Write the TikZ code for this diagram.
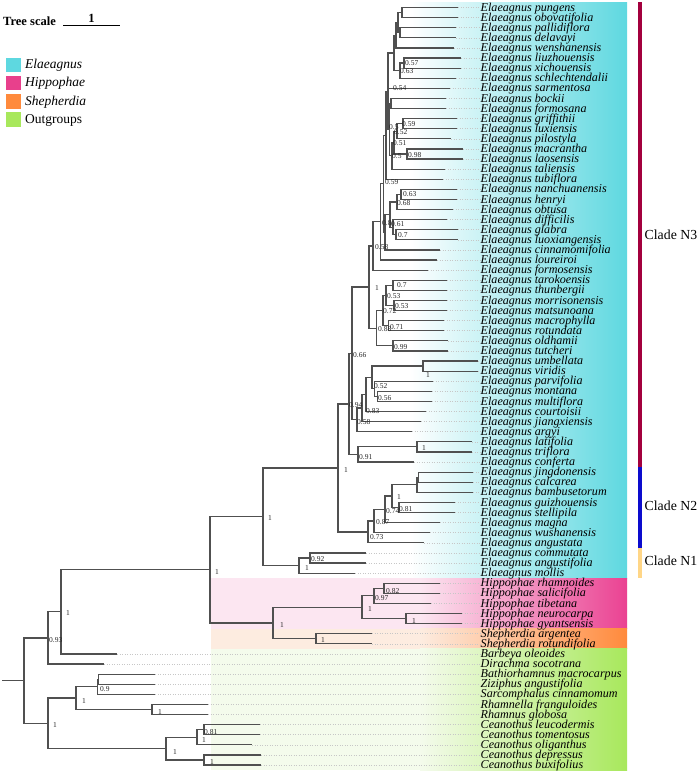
\documentclass[tikz,border=0pt]{standalone}
\usepackage{fontspec}
\setmainfont{Liberation Serif}
\usetikzlibrary{calc}
\definecolor{cyanE}{RGB}{94,216,224}
\definecolor{pinkH}{RGB}{234,66,146}
\definecolor{orangeS}{RGB}{255,138,60}
\definecolor{greenO}{RGB}{168,232,92}
\definecolor{ltpink}{RGB}{252,230,241}
\definecolor{ltorange}{RGB}{253,236,224}
\definecolor{ltgreen}{RGB}{244,251,236}
\definecolor{cN3}{RGB}{163,0,62}
\definecolor{cN2}{RGB}{12,12,205}
\definecolor{cN1}{RGB}{255,214,135}
\definecolor{brc}{RGB}{80,80,80}
\tikzset{
  br/.style={draw=brc, line width=1.2pt},
  leader/.style={draw=black!22, line width=0.5pt, dotted},
  leaflab/.style={anchor=base west, inner sep=0.5pt, font=\fontsize{12.1}{12.1}\selectfont\itshape},
  bs/.style={anchor=west, inner sep=0pt, font=\fontsize{7.5}{7.5}\selectfont, text=black!85},
  legsq/.style={minimum width=16.7pt, minimum height=15.6pt, inner sep=0pt, draw=white, line width=0.4pt},
  legtxt/.style={anchor=base west, inner sep=0pt, font=\fontsize{13.5}{13.5}\selectfont},
  cladelab/.style={anchor=west, inner sep=0pt, font=\fontsize{13.8}{13.8}\selectfont},
}
\newcommand\tleaf[4]{%
  \coordinate (#1) at (#3,{7.5+10.1*#2});
  \node[leaflab] (#1-lab) at (480,{11.1+10.1*#2}) {#4};
  \draw[leader] (#1) -- (#1-lab.west |- #1);
}
\newcommand\tinode[4]{%
  \path let \p1=(#3), \p2=(#4) in coordinate (#1) at (#2pt,{0.5*(\y1+\y2)});
  \draw[br] (#3) -| (#1) |- (#4);
}
\newcommand\bsl[4]{\node[bs] (#1) at (#2,#3) {#4};}
\begin{document}
\begin{tikzpicture}[x=1pt,y=-1pt]
\useasboundingbox (0,0) rectangle (700,774);
% ---- coloured bands ----
\shade[left color=white,right color=cyanE] (410,2.4) rectangle (627,578.1);
\fill[ltpink] (211,578.1) rectangle (420,628.6);
\shade[left color=ltpink,right color=pinkH] (420,578.1) rectangle (627,628.6);
\fill[ltorange] (211,628.6) rectangle (420,648.9);
\shade[left color=ltorange,right color=orangeS] (420,628.6) rectangle (627,648.9);
\fill[ltgreen] (211,648.9) rectangle (420,770);
\shade[left color=ltgreen,right color=greenO] (420,648.9) rectangle (627,770);
% ---- clade bars ----
\fill[cN3] (638,2.4) rectangle (642,467.05);
\fill[cN2] (638,467.05) rectangle (642,547.85);
\fill[cN1] (638,547.85) rectangle (642,578.1);
\node[cladelab] (cl3) at (644.5,234.7) {Clade N3};
\node[cladelab] (cl2) at (644.5,506) {Clade N2};
\node[cladelab] (cl1) at (644.5,561) {Clade N1};
% ---- tree scale and legend ----
\node[anchor=base west, inner sep=0pt, font=\fontsize{12.5}{12.5}\selectfont\bfseries] (ts) at (3,25.7) {Tree scale};
\coordinate (sbA) at (63,25.7);
\coordinate (sbB) at (120,25.7);
\draw[line width=0.9pt] (sbA) -- (sbB);
\node[anchor=base, inner sep=0pt, font=\fontsize{12.5}{12.5}\selectfont\bfseries] (sbl) at (91.5,22) {1};
\node[legsq, fill=cyanE] (lg1) at (13.3,64.5) {};
\node[legsq, fill={rgb,255:red,232;green,64;blue,140}] (lg2) at (13.3,82.5) {};
\node[legsq, fill=orangeS] (lg3) at (13.3,101) {};
\node[legsq, fill=greenO] (lg4) at (13.3,119) {};
\node[legtxt] (lt1) at (25,68.6) {\itshape Elaeagnus};
\node[legtxt] (lt2) at (25,86.8) {\itshape Hippophae};
\node[legtxt] (lt3) at (25,105.2) {\itshape Shepherdia};
\node[legtxt] (lt4) at (25,123.3) {Outgroups};
% ---- leaves ----
\tleaf{l0}{0}{458}{Elaeagnus pungens}
\tleaf{l1}{1}{458}{Elaeagnus obovatifolia}
\tleaf{l2}{2}{456}{Elaeagnus pallidiflora}
\tleaf{l3}{3}{456}{Elaeagnus delavayi}
\tleaf{l4}{4}{454}{Elaeagnus wenshanensis}
\tleaf{l5}{5}{461}{Elaeagnus liuzhouensis}
\tleaf{l6}{6}{461}{Elaeagnus xichouensis}
\tleaf{l7}{7}{456}{Elaeagnus schlechtendalii}
\tleaf{l8}{8}{450}{Elaeagnus sarmentosa}
\tleaf{l9}{9}{446}{Elaeagnus bockii}
\tleaf{l10}{10}{446}{Elaeagnus formosana}
\tleaf{l11}{11}{457}{Elaeagnus griffithii}
\tleaf{l12}{12}{457}{Elaeagnus luxiensis}
\tleaf{l13}{13}{451}{Elaeagnus pilostyla}
\tleaf{l14}{14}{463}{Elaeagnus macrantha}
\tleaf{l15}{15}{463}{Elaeagnus laosensis}
\tleaf{l16}{16}{445}{Elaeagnus taliensis}
\tleaf{l17}{17}{443}{Elaeagnus tubiflora}
\tleaf{l18}{18}{457}{Elaeagnus nanchuanensis}
\tleaf{l19}{19}{457}{Elaeagnus henryi}
\tleaf{l20}{20}{453}{Elaeagnus obtusa}
\tleaf{l21}{21}{447}{Elaeagnus difficilis}
\tleaf{l22}{22}{458}{Elaeagnus glabra}
\tleaf{l23}{23}{458}{Elaeagnus luoxiangensis}
\tleaf{l24}{24}{440}{Elaeagnus cinnamomifolia}
\tleaf{l25}{25}{437}{Elaeagnus loureiroi}
\tleaf{l26}{26}{428}{Elaeagnus formosensis}
\tleaf{l27}{27}{447}{Elaeagnus tarokoensis}
\tleaf{l28}{28}{447}{Elaeagnus thunbergii}
\tleaf{l29}{29}{447}{Elaeagnus morrisonensis}
\tleaf{l30}{30}{447}{Elaeagnus matsunoana}
\tleaf{l31}{31}{444}{Elaeagnus macrophylla}
\tleaf{l32}{32}{444}{Elaeagnus rotundata}
\tleaf{l33}{33}{448}{Elaeagnus oldhamii}
\tleaf{l34}{34}{448}{Elaeagnus tutcheri}
\tleaf{l35}{35}{478}{Elaeagnus umbellata}
\tleaf{l36}{36}{478}{Elaeagnus viridis}
\tleaf{l37}{37}{433}{Elaeagnus parvifolia}
\tleaf{l38}{38}{432}{Elaeagnus montana}
\tleaf{l39}{39}{432}{Elaeagnus multiflora}
\tleaf{l40}{40}{426}{Elaeagnus courtoisii}
\tleaf{l41}{41}{421}{Elaeagnus jiangxiensis}
\tleaf{l42}{42}{412}{Elaeagnus argyi}
\tleaf{l43}{43}{472}{Elaeagnus latifolia}
\tleaf{l44}{44}{472}{Elaeagnus triflora}
\tleaf{l45}{45}{414}{Elaeagnus conferta}
\tleaf{l46}{46}{473}{Elaeagnus jingdonensis}
\tleaf{l47}{47}{473}{Elaeagnus calcarea}
\tleaf{l48}{48}{473}{Elaeagnus bambusetorum}
\tleaf{l49}{49}{455}{Elaeagnus guizhouensis}
\tleaf{l50}{50}{455}{Elaeagnus stellipila}
\tleaf{l51}{51}{440}{Elaeagnus magna}
\tleaf{l52}{52}{430}{Elaeagnus wushanensis}
\tleaf{l53}{53}{424}{Elaeagnus angustata}
\tleaf{l54}{54}{366}{Elaeagnus commutata}
\tleaf{l55}{55}{366}{Elaeagnus angustifolia}
\tleaf{l56}{56}{355}{Elaeagnus mollis}
\tleaf{l57}{57}{440}{Hippophae rhamnoides}
\tleaf{l58}{58}{440}{Hippophae salicifolia}
\tleaf{l59}{59}{431}{Hippophae tibetana}
\tleaf{l60}{60}{462}{Hippophae neurocarpa}
\tleaf{l61}{61}{462}{Hippophae gyantsensis}
\tleaf{l62}{62}{372}{Shepherdia argentea}
\tleaf{l63}{63}{372}{Shepherdia rotundifolia}
\tleaf{l64}{64}{117}{Barbeya oleoides}
\tleaf{l65}{65}{104}{Dirachma socotrana}
\tleaf{l66}{66}{155}{Bathiorhamnus macrocarpus}
\tleaf{l67}{67}{155}{Ziziphus angustifolia}
\tleaf{l68}{68}{155}{Sarcomphalus cinnamomum}
\tleaf{l69}{69}{208}{Rhamnella franguloides}
\tleaf{l70}{70}{208}{Rhamnus globosa}
\tleaf{l71}{71}{260}{Ceanothus leucodermis}
\tleaf{l72}{72}{260}{Ceanothus tomentosus}
\tleaf{l73}{73}{252}{Ceanothus oliganthus}
\tleaf{l74}{74}{261}{Ceanothus depressus}
\tleaf{l75}{75}{261}{Ceanothus buxifolius}
% ---- internal nodes: Elaeagnus clade N3 ----
\tinode{na}{402}{l0}{l1}
\tinode{nb}{400}{l2}{l3}
\tinode{nc}{398}{na}{nb}
\tinode{nd}{396}{nc}{l4}
\tinode{ne}{404}{l5}{l6}
\tinode{nf}{400}{ne}{l7}
\tinode{ntop}{394}{nd}{nf}
\tinode{nbf}{391}{l9}{l10}
\tinode{ngl}{403}{l11}{l12}
\tinode{nglp}{397}{ngl}{l13}
\tinode{nml}{407}{l14}{l15}
\tinode{nfo}{394}{nglp}{nml}
\tinode{nfi}{392}{nfo}{l16}
\tinode{nfa}{389.5}{nbf}{nfi}
\tinode{ngoa}{388}{ntop}{nfa}
\draw[br] (ngoa |- l8) -- (l8);
\tinode{ngo}{386}{ngoa}{l17}
\tinode{nht}{401}{l18}{l19}
\tinode{nsie}{397}{nht}{l20}
\tinode{nglb}{396}{l22}{l23}
\tinode{ndif}{393}{l21}{nglb}
\tinode{ngt}{390}{nsie}{ndif}
\tinode{ngtc}{385}{ngt}{l24}
\tinode{nfn}{383.5}{ngo}{ngtc}
\tinode{nei}{380.5}{nfn}{l25}
\tinode{nfe}{373}{nei}{l26}
\tinode{ntt}{393}{l27}{l28}
\tinode{nmt}{394}{l29}{l30}
\tinode{nft}{386}{ntt}{nmt}
\tinode{nrt}{388.5}{l31}{l32}
\tinode{nsv}{383}{nft}{nrt}
\tinode{nott}{393}{l33}{l34}
\tinode{nee}{376.5}{nsv}{nott}
\tinode{ncore}{369}{nfe}{nee}
\tinode{nuv}{423}{l35}{l36}
\tinode{nmm}{377.5}{l38}{l39}
\tinode{npm}{374.5}{l37}{nmm}
\tinode{nfy}{372}{nuv}{npm}
\tinode{nct}{366}{nfy}{l40}
\tinode{njx}{362}{nct}{l41}
\tinode{nargy}{357}{njx}{l42}
\tinode{nsix}{352}{ncore}{nargy}
\tinode{nlat}{417}{l43}{l44}
\tinode{nnine}{358}{nlat}{l45}
\tinode{nninf}{349}{nsix}{nnine}
% ---- clade N2 ----
\tinode{njc}{418.5}{l46}{l47}
\tinode{njcb}{417}{njc}{l48}
\tinode{ngs}{399}{l49}{l50}
\tinode{nto}{392}{njcb}{ngs}
\tinode{nsf}{385}{nto}{l51}
\tinode{nes}{374}{nsf}{l52}
\tinode{nNtwo}{368}{nes}{l53}
\tinode{nEone}{338}{nninf}{nNtwo}
% ---- clade N1 ----
\tinode{nNoa}{310}{l54}{l55}
\tinode{nNone}{299}{nNoa}{l56}
\tinode{nEzero}{263}{nEone}{nNone}
% ---- Hippophae / Shepherdia ----
\tinode{nhr}{384}{l57}{l58}
\tinode{nhtb}{374}{nhr}{l59}
\tinode{nhn}{406}{l60}{l61}
\tinode{nhip}{362}{nhtb}{nhn}
\tinode{nshep}{316}{l62}{l63}
\tinode{nhs}{273}{nhip}{nshep}
\tinode{nelg}{210}{nEzero}{nhs}
% ---- outgroups ----
\tinode{nbar}{61}{nelg}{l64}
\tinode{ndir}{48}{nbar}{l65}
\tinode{nbz}{98.5}{l66}{l67}
\tinode{nbzs}{97.3}{nbz}{l68}
\tinode{nrr}{152}{l69}{l70}
\tinode{nrha}{76}{nbzs}{nrr}
\tinode{nlt}{204}{l71}{l72}
\tinode{nlto}{197}{nlt}{l73}
\tinode{ndb}{204}{l74}{l75}
\tinode{ncea}{166}{nlto}{ndb}
\tinode{nrham}{48}{nrha}{ncea}
\tinode{nroot}{24}{ndir}{nrham}
\coordinate (rootstub) at ([xshift=-22pt]nroot);
\draw[br] (nroot) -- (rootstub);
% ---- support values ----
\bsl{b1}{405}{63}{0.57}
\bsl{b2}{400}{71}{0.63}
\bsl{b3}{393}{88}{0.54}
\bsl{b4}{402}{124}{0.59}
\bsl{b5}{389}{127}{0.5}
\bsl{b6}{394}{132}{0.52}
\bsl{b7}{393}{143}{0.51}
\bsl{b8}{392}{156}{0.5}
\bsl{b9}{408}{155}{0.98}
\bsl{b10}{385}{182}{0.59}
\bsl{b11}{403}{194}{0.63}
\bsl{b12}{397}{203}{0.68}
\bsl{b13}{382}{223}{0.8}
\bsl{b14}{391}{224}{0.61}
\bsl{b15}{398}{235}{0.7}
\bsl{b16}{375}{247}{0.58}
\bsl{b17}{375}{288}{1}
\bsl{b18}{397}{285}{0.7}
\bsl{b19}{387}{296}{0.53}
\bsl{b20}{395}{306}{0.53}
\bsl{b21}{383}{311}{0.72}
\bsl{b22}{378}{329}{0.88}
\bsl{b23}{390}{327}{0.71}
\bsl{b24}{394}{347}{0.99}
\bsl{b25}{353}{355}{0.66}
\bsl{b26}{426}{375}{1}
\bsl{b27}{374}{386}{0.52}
\bsl{b28}{378}{398}{0.56}
\bsl{b29}{349}{405}{0.94}
\bsl{b30}{366}{411}{0.83}
\bsl{b31}{357}{422}{0.58}
\bsl{b32}{422}{448}{1}
\bsl{b33}{359}{457}{0.91}
\bsl{b34}{344}{470}{1}
\bsl{b35}{268}{518}{1}
\bsl{b36}{397}{497}{1}
\bsl{b37}{386}{511}{0.74}
\bsl{b38}{399}{509}{0.81}
\bsl{b39}{376}{522}{0.87}
\bsl{b40}{370}{537}{0.73}
\bsl{b41}{311}{559}{0.92}
\bsl{b42}{305}{568}{1}
\bsl{b43}{215}{572}{1}
\bsl{b44}{66}{613}{1}
\bsl{b45}{49}{640}{0.93}
\bsl{b46}{100}{689}{0.9}
\bsl{b47}{82}{701}{1}
\bsl{b48}{158}{712}{1}
\bsl{b49}{53}{725}{1}
\bsl{b50}{204}{732}{0.81}
\bsl{b51}{202}{740}{1}
\bsl{b52}{173}{752}{1}
\bsl{b53}{210}{762}{1}
\bsl{b54}{386}{591}{0.82}
\bsl{b55}{375}{598}{0.97}
\bsl{b56}{368}{609}{1}
\bsl{b57}{412}{621}{1}
\bsl{b58}{280}{625}{1}
\bsl{b59}{321}{640}{1}
\end{tikzpicture}
\end{document}
